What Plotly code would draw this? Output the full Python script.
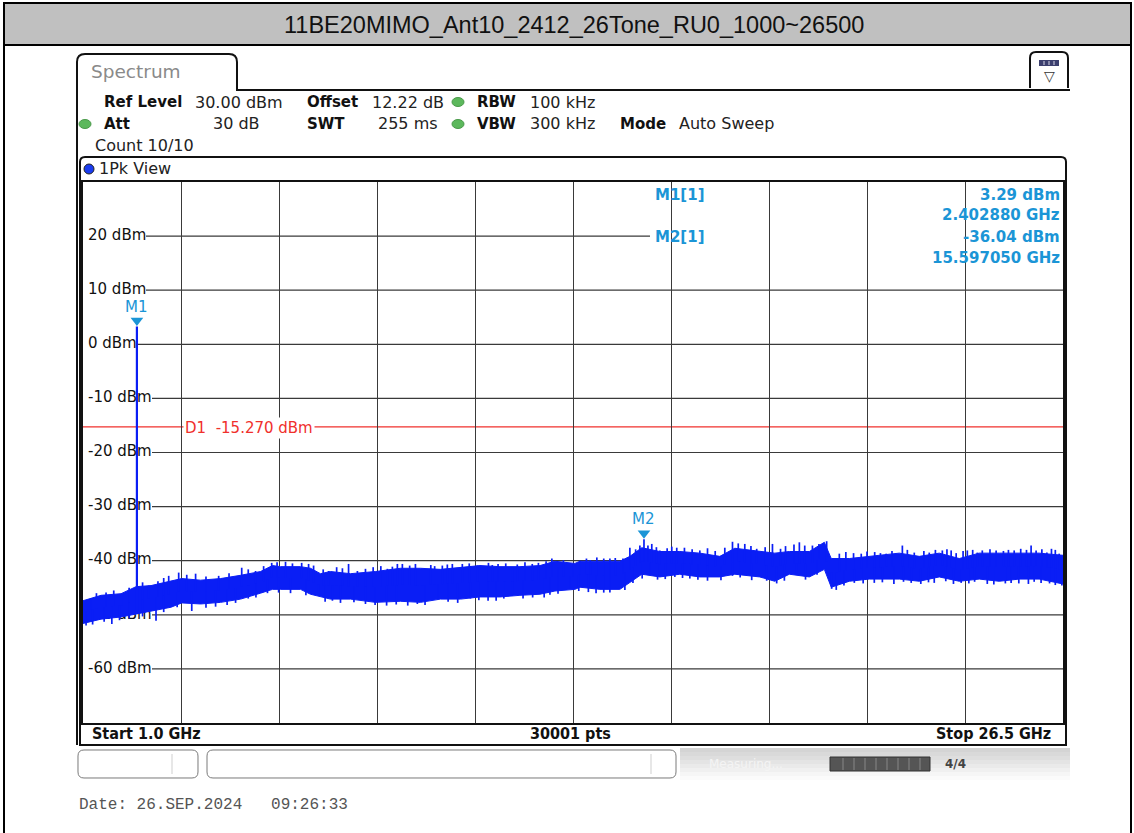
import numpy as np
import plotly.graph_objects as go

W, H = 1134, 833
TITLE = "11BE20MIMO_Ant10_2412_26Tone_RU0_1000~26500"

# ---------------- data ----------------
F_START, F_STOP = 1.0, 26.5          # GHz
Y_TOP, Y_BOTTOM = 30, -70            # dBm

# dense core of the peak trace (GHz, upper / lower dBm)
band_freq = [1.00, 1.47, 1.99, 2.38, 2.77, 3.29, 3.57, 4.06, 4.58, 5.10, 5.62, 5.93,
             6.14, 6.66, 6.92, 7.18, 7.44, 7.96, 8.61, 9.26, 9.78, 10.30, 10.82, 11.33,
             11.85, 12.37, 12.89, 13.28, 13.80, 13.93, 14.45, 14.97, 15.23, 15.54, 16.01,
             16.53, 17.05, 17.57, 17.96, 18.61, 19.00, 19.38, 19.90, 20.29, 20.47, 20.94,
             21.46, 22.24, 22.76, 23.28, 23.80, 24.32, 24.84, 25.36, 25.88, 26.50]
band_hi = [-47.4, -46.4, -46.1, -44.8, -44.6, -43.8, -43.3, -43.6, -43.3, -42.7, -42.0, -40.9,
           -41.1, -41.1, -41.4, -42.4, -42.0, -42.4, -42.0, -41.4, -41.4, -41.6, -41.2, -40.9,
           -41.1, -41.1, -40.9, -40.1, -40.5, -40.1, -40.1, -40.1, -39.2, -37.6, -38.3,
           -38.3, -38.6, -39.2, -37.7, -38.3, -38.6, -38.3, -38.3, -36.6, -39.6, -39.6,
           -39.2, -38.6, -39.2, -38.6, -39.6, -38.6, -38.6, -38.6, -38.6, -39.0]
band_lo = [-51.6, -50.8, -50.4, -49.9, -49.3, -48.6, -47.8, -48.0, -47.7, -47.1, -46.0, -45.3,
           -45.3, -45.3, -46.2, -46.7, -47.1, -47.1, -47.7, -47.5, -47.7, -47.1, -47.1, -46.7,
           -46.7, -46.4, -46.2, -45.6, -45.3, -44.9, -45.3, -45.3, -44.0, -42.5, -43.0,
           -42.5, -43.0, -43.0, -42.5, -43.0, -43.8, -42.5, -43.0, -41.6, -44.9, -43.8,
           -43.4, -43.4, -43.8, -43.0, -43.8, -43.4, -43.8, -43.4, -43.4, -44.3]

# visible peaks above the core (GHz, dBm)
spike_up_freq = [1.21, 1.35, 1.60, 1.80, 2.01, 2.20, 2.55, 2.71, 2.95, 3.10, 3.23, 3.49, 3.70,
                 3.93, 4.20, 4.53, 4.80, 5.13, 5.30, 5.49, 5.70, 5.91, 6.05, 6.27, 6.45, 6.69,
                 6.87, 7.00, 7.25, 7.39, 7.60, 7.75, 7.91, 8.14, 8.35, 8.55, 8.75, 8.92, 9.05,
                 9.18, 9.31, 9.50, 9.65, 9.83, 10.05, 10.15, 10.35, 10.48, 10.61, 10.87, 11.05,
                 11.26, 11.55, 11.65, 11.80, 12.00, 12.17, 12.30, 12.50, 12.69, 12.85, 13.05,
                 13.20, 13.36, 13.50, 13.75, 13.93, 14.10, 14.20, 14.37, 14.55, 14.71, 14.85,
                 15.05, 15.23, 15.38, 15.49, 15.597, 15.70, 15.80, 15.92, 16.01, 16.20, 16.32,
                 16.45, 16.65, 16.85, 17.05, 17.25, 17.45, 17.70, 17.90, 18.05, 18.22, 18.38,
                 18.53, 18.75, 18.94, 19.15, 19.28, 19.50, 19.64, 19.78, 19.98, 20.15, 20.35,
                 20.68, 20.85, 21.05, 21.25, 21.40, 21.60, 21.75, 21.90, 22.05, 22.32, 22.45,
                 22.63, 22.88, 23.02, 23.18, 23.36, 23.48, 23.59, 23.72, 23.90, 24.01, 24.15,
                 24.27, 24.40, 24.60, 24.76, 24.95, 25.08, 25.23, 25.40, 25.55, 25.67, 25.80,
                 25.95, 26.08, 26.20, 26.30, 26.40]
spike_up_dbm = [-46.9, -46.0, -45.9, -45.5, -46.1, -45.0, -44.0, -44.6, -43.8, -43.2, -42.8, -42.2, -42.6,
                -42.4, -42.9, -42.8, -42.3, -41.3, -41.6, -41.9, -41.0, -40.4, -40.3, -40.2, -40.5, -40.4,
                -40.6, -40.9, -41.6, -41.9, -41.2, -41.4, -40.6, -41.9, -41.5, -41.2, -41.0, -41.5, -41.1,
                -40.6, -40.6, -40.9, -40.6, -41.7, -40.8, -41.0, -40.9, -40.7, -40.6, -40.6, -40.5,
                -40.9, -40.4, -40.8, -40.6, -40.5, -41.3, -40.7, -40.3, -40.6, -40.4, -40.1,
                -39.6, -41.3, -39.9, -40.6, -40.0, -39.6, -39.9, -39.4, -39.6, -39.6, -39.5,
                -39.6, -37.6, -37.9, -37.2, -36.04, -37.2, -36.9, -37.5, -38.1, -37.7, -37.4,
                -37.6, -37.6, -37.9, -38.1, -37.7, -38.2, -37.6, -36.5, -36.8, -36.9, -37.3,
                -37.8, -37.5, -36.9, -37.8, -37.3, -37.0, -36.6, -37.2, -37.2, -36.9, -36.4,
                -38.7, -38.4, -38.6, -38.7, -38.3, -38.4, -38.6, -38.7, -38.2, -37.2, -38.0,
                -38.5, -38.2, -38.5, -38.0, -38.1, -37.9, -38.1, -38.6, -38.2, -38.1, -38.0,
                -38.5, -38.1, -37.9, -38.1, -38.2, -38.0, -38.1, -37.8, -38.0, -37.2, -38.1,
                -37.9, -38.5, -37.8, -38.0, -38.7]
# visible dips below the core (GHz, dBm)
spike_dn_freq = [1.08, 1.25, 1.55, 1.75, 1.95, 2.20, 2.55, 2.90, 3.10, 3.45, 3.83, 4.20, 4.45,
                 4.75, 4.97, 5.30, 5.50, 5.80, 6.09, 6.40, 6.80, 7.13, 7.30, 7.49, 7.70, 8.05,
                 8.35, 8.60, 8.90, 9.15, 9.45, 9.70, 9.90, 10.24, 10.50, 10.75, 11.08, 11.30,
                 11.54, 11.75, 11.95, 12.17, 12.45, 12.70, 13.00, 13.15, 13.36, 13.67, 13.90,
                 14.15, 14.35, 14.55, 14.71, 15.10, 15.31, 15.55, 15.75, 15.95, 16.15, 16.40,
                 16.60, 16.79, 17.00, 17.25, 17.60, 17.90, 18.10, 18.40, 18.79, 19.05, 19.25,
                 19.57, 19.80, 20.10, 20.48, 20.60, 20.80, 21.07, 21.30, 21.59, 21.80, 22.10,
                 22.35, 22.55, 22.80, 23.00, 23.15, 23.45, 23.65, 23.85, 24.05, 24.20, 24.53,
                 24.70, 25.00, 25.15, 25.35, 25.60, 25.75, 25.93, 26.15, 26.30, 26.47]
spike_dn_dbm = [-52.0, -51.8, -51.3, -51.7, -51.0, -50.7, -50.3, -51.1, -49.5, -48.6, -49.3, -48.7, -48.5,
                -48.2, -47.8, -47.0, -46.8, -46.0, -45.9, -46.0, -46.4, -46.5, -47.6, -47.4, -47.8, -47.7,
                -48.0, -48.2, -48.3, -48.1, -48.3, -48.0, -48.2, -47.0, -47.6, -47.8, -47.0, -47.3,
                -47.4, -47.4, -47.0, -46.5, -47.0, -46.8, -46.8, -46.3, -46.1, -45.2, -45.6,
                -45.8, -46.0, -45.9, -45.9, -45.4, -44.1, -43.3, -42.4, -43.5, -43.4, -43.0,
                -43.2, -43.3, -43.5, -43.7, -43.6, -42.8, -43.1, -43.6, -43.7, -44.2, -43.7,
                -42.4, -43.5, -42.6, -45.2, -45.4, -44.6, -44.1, -44.2, -44.1, -44.0, -44.3,
                -43.9, -44.1, -44.3, -44.0, -44.1, -43.8, -44.3, -44.1, -44.2, -43.9, -44.3,
                -44.4, -44.2, -44.1, -44.2, -44.3, -43.9, -44.1, -44.2, -44.5, -44.6]

M1_FREQ, M1_DBM = 2.402880, 3.29
M2_FREQ, M2_DBM = 15.597050, -36.04
D1_DBM = -15.270

grid_levels = [20, 10, 0, -10, -20, -30, -40, -50, -60]
grid_labels = ["20 dBm", "10 dBm", "0 dBm", "-10 dBm", "-20 dBm", "-30 dBm", "-40 dBm", "-50 dBm", "-60 dBm"]

marker_rows = [("M1[1]", "3.29 dBm"), ("", "2.402880 GHz"), ("M2[1]", "-36.04 dBm"), ("", "15.597050 GHz")]

# ---------------- geometry helpers (pixels -> paper) ----------------
PL, PR, PT, PB = 83, 1063, 182, 723
PX_PER_DB = (PB - PT) / (Y_TOP - Y_BOTTOM)


def px(x):
    return x / W


def py(y):
    return 1 - y / H


def fx(x):  # pixel x -> GHz on the plot
    return F_START + (x - PL) / (PR - PL) * (F_STOP - F_START)


def path(points_cmds):
    out = []
    for c in points_cmds:
        if isinstance(c, str):
            out.append(c)
        else:
            out.append(f"{px(c[0]):.5f},{py(c[1]):.5f}")
    return " ".join(out)


BLUE = "#0a1ef5"
MBLUE = "#1b95d6"
RED = "#f0302c"
FONT = "DejaVu Sans"

fig = go.Figure()

# grid labels (drawn under the trace)
fig.add_trace(go.Scatter(
    x=[fx(88)] * len(grid_levels), y=grid_levels, mode="text", text=grid_labels,
    textposition="middle right", textfont=dict(family=FONT, size=15, color="#111"),
    hoverinfo="skip"))

# dense core band
fig.add_trace(go.Scatter(x=band_freq, y=band_lo, mode="lines",
                         line=dict(color=BLUE, width=1), hoverinfo="skip"))
fig.add_trace(go.Scatter(x=band_freq, y=band_hi, mode="lines", fill="tonexty",
                         fillcolor=BLUE, line=dict(color=BLUE, width=1), hoverinfo="skip"))

# spikes
mid = (np.array(band_hi) + np.array(band_lo)) / 2
sx, sy = [], []
for f, v in list(zip(spike_up_freq, spike_up_dbm)) + list(zip(spike_dn_freq, spike_dn_dbm)):
    b = float(np.interp(f, band_freq, mid))
    sx += [f, f, None]
    sy += [b, v, None]
fig.add_trace(go.Scatter(x=sx, y=sy, mode="lines", line=dict(color=BLUE, width=1.7),
                         hoverinfo="skip", connectgaps=False))

# M1 carrier line
m1_base = float(np.interp(M1_FREQ, band_freq, band_lo))
fig.add_trace(go.Scatter(x=[M1_FREQ, M1_FREQ], y=[m1_base, M1_DBM], mode="lines",
                         line=dict(color=BLUE, width=2.2), hoverinfo="skip"))

# marker triangles (sit ~6 px above the marked point)
tri_off = 6 / PX_PER_DB
fig.add_trace(go.Scatter(x=[M1_FREQ, M2_FREQ], y=[M1_DBM + tri_off, M2_DBM + tri_off], mode="markers",
                         marker=dict(symbol="triangle-down", size=11, color=MBLUE, line=dict(width=0)),
                         hoverinfo="skip"))

shapes = []
annotations = []


def text(x, y, s, size=15, color="#111", anchor="left", weight="normal", family=FONT, bg=None):
    a = dict(x=px(x), y=py(y), xref="paper", yref="paper", text=s, showarrow=False,
             xanchor=anchor, yanchor="middle",
             font=dict(family=family, size=size, color=color, weight=weight))
    if bg:
        a["bgcolor"] = bg
    annotations.append(a)


# ----- outer report frame + title bar -----
shapes.append(dict(type="rect", xref="paper", yref="paper", x0=px(4), x1=px(1131), y0=py(3), y1=py(45),
                   fillcolor="#c0c0c0", line=dict(color="black", width=2), layer="above"))
shapes.append(dict(type="line", xref="paper", yref="paper", x0=px(4), x1=px(4), y0=py(45), y1=py(833),
                   line=dict(color="black", width=2)))
shapes.append(dict(type="line", xref="paper", yref="paper", x0=px(1131), x1=px(1131), y0=py(45), y1=py(833),
                   line=dict(color="black", width=2)))
text(574, 25, TITLE, size=23.5, color="#111", anchor="center", family="Liberation Sans, Arial")

# ----- spectrum tab and screen border -----
shapes.append(dict(type="path", xref="paper", yref="paper", layer="above",
                   path=path(["M", (77, 745), "L", (77, 62), "Q", (77, 54), (85, 54), "L", (229, 54),
                              "Q", (237, 54), (237, 62), "L", (237, 90), "L", (1070, 90)]),
                   line=dict(color="#111", width=2)))
text(89, 72, "Spectrum", size=18.5, color="#8a8a8a")
# icon at top right
shapes.append(dict(type="path", xref="paper", yref="paper", layer="above",
                   path=path(["M", (1030, 88), "L", (1030, 58), "Q", (1030, 52), (1036, 52), "L", (1062, 52),
                              "Q", (1068, 52), (1068, 58), "L", (1068, 88)]),
                   line=dict(color="#111", width=2)))
shapes.append(dict(type="rect", xref="paper", yref="paper", x0=px(1039), x1=px(1059), y0=py(60), y1=py(66),
                   fillcolor="#3c3f6e", line=dict(width=0)))
for xx in (1044, 1049, 1054):
    shapes.append(dict(type="line", xref="paper", yref="paper", x0=px(xx), x1=px(xx), y0=py(61), y1=py(65),
                       line=dict(color="#d8d8e8", width=1)))
text(1049, 76, "▽", size=14, color="#333", anchor="center")

# header rows
HV = 16
text(102, 102, "Ref Level", weight="bold")
text(193, 102, "30.00 dBm", color="#222", size=HV)
text(305, 102, "Offset", weight="bold")
text(370, 102, "12.22 dB", color="#222", size=HV)
text(475, 102, "RBW", weight="bold")
text(528, 102, "100 kHz", color="#222", size=HV)
text(102, 124, "Att", weight="bold")
text(262, 124, "30 dB", color="#222", anchor="right", size=HV)
text(305, 124, "SWT", weight="bold")
text(440, 124, "255 ms", color="#222", anchor="right", size=HV)
text(475, 124, "VBW", weight="bold")
text(528, 124, "300 kHz", color="#222", size=HV)
text(618, 124, "Mode", weight="bold")
text(677, 124, "Auto Sweep", color="#222", size=HV)
text(93, 145, "Count 10/10", color="#222", size=HV)
for cx, cy in [(458, 102), (85, 124), (458, 124)]:
    shapes.append(dict(type="circle", xref="paper", yref="paper", x0=px(cx - 6), x1=px(cx + 6),
                       y0=py(cy - 4.5), y1=py(cy + 4.5), fillcolor="#5cb85c", line=dict(color="#4a9a4a", width=1)))

# 1Pk View window
shapes.append(dict(type="path", xref="paper", yref="paper", layer="above",
                   path=path(["M", (80, 745), "L", (80, 162), "Q", (80, 157), (85, 157), "L", (1061, 157),
                              "Q", (1066, 157), (1066, 162), "L", (1066, 745), "Z"]),
                   line=dict(color="#111", width=2)))
shapes.append(dict(type="circle", xref="paper", yref="paper", x0=px(84), x1=px(94), y0=py(164), y1=py(174),
                   fillcolor="#1a3cf0", line=dict(color="#222", width=1)))
text(97, 169, "1Pk View", size=16, color="#222")

# marker info box (hides grid in upper right)
shapes.append(dict(type="rect", xref="paper", yref="paper", x0=px(575), x1=px(PR - 1), y0=py(PT + 1), y1=py(268),
                   fillcolor="white", line=dict(width=0), layer="between"))

# horizontal grid lines starting after their labels
starts = {20: 146, 10: 146, 0: 136}
for lv in grid_levels:
    x0 = starts.get(lv, 152)
    x1 = 650 if lv == 20 else PR
    shapes.append(dict(type="line", xref="paper", yref="y", x0=px(x0), x1=px(x1), y0=lv, y1=lv,
                       line=dict(color="#3a3a3a", width=1.2), layer="between"))

# D1 display line
shapes.append(dict(type="line", xref="paper", yref="y", x0=px(PL), x1=px(PR), y0=D1_DBM, y1=D1_DBM,
                   line=dict(color=RED, width=1.2), layer="between"))
text(183, 428, "D1  -15.270 dBm", size=15, color=RED, bg="white")

# marker info text
ys = [195, 215, 237, 258]
for (lab, val), yy in zip(marker_rows, ys):
    if lab:
        text(653, yy, lab, size=15, color=MBLUE, weight="bold")
    text(1062, yy, val, size=15, color=MBLUE, weight="bold", anchor="right")

# marker name labels
for name, f, v in [("M1", M1_FREQ, M1_DBM), ("M2", M2_FREQ, M2_DBM)]:
    annotations.append(dict(x=f, y=v, xref="x", yref="y", text=name, showarrow=False,
                            yanchor="middle", yshift=20, font=dict(family=FONT, size=15, color=MBLUE)))

# bottom bar texts
BF = "DejaVu Sans Condensed, DejaVu Sans"
text(90, 733, "Start 1.0 GHz", size=16, weight="bold", family=BF)
text(570, 733, "30001 pts", size=16, weight="bold", anchor="center", family=BF)
text(1053, 733, "Stop 26.5 GHz", size=16, weight="bold", anchor="right", family=BF)

# status bar
for x0, x1, sep in [(78, 198, 172), (207, 676, 651)]:
    shapes.append(dict(type="path", xref="paper", yref="paper",
                       path=path(["M", (x0 + 6, 750), "L", (x1 - 6, 750), "Q", (x1, 750), (x1, 756), "L", (x1, 772),
                                  "Q", (x1, 778), (x1 - 6, 778), "L", (x0 + 6, 778), "Q", (x0, 778), (x0, 772),
                                  "L", (x0, 756), "Q", (x0, 750), (x0 + 6, 750), "Z"]),
                       fillcolor="white", line=dict(color="#7a7a7a", width=1)))
    shapes.append(dict(type="line", xref="paper", yref="paper", x0=px(sep), x1=px(sep), y0=py(754), y1=py(774),
                       line=dict(color="#cfcfcf", width=1)))
grad = ["#d4d4d4", "#d9d9d9", "#dedede", "#e4e4e4", "#eaeaea", "#f0f0f0", "#f6f6f6", "#fbfbfb"]
for i, c in enumerate(grad):
    shapes.append(dict(type="rect", xref="paper", yref="paper", x0=px(680), x1=px(1070),
                       y0=py(748 + i * 4), y1=py(752 + i * 4), fillcolor=c, line=dict(width=0)))
text(707, 764, "Measuring...", size=12, color="#f4f4f4")
shapes.append(dict(type="rect", xref="paper", yref="paper", x0=px(830), x1=px(930), y0=py(757), y1=py(771),
                   fillcolor="#555", line=dict(color="#333", width=1)))
for xx in range(843, 930, 11):
    shapes.append(dict(type="line", xref="paper", yref="paper", x0=px(xx), x1=px(xx), y0=py(758), y1=py(770),
                       line=dict(color="#888", width=1)))
text(955, 764, "4/4", size=12, color="#444", anchor="center", weight="bold")

# date line
text(77, 805, "Date: 26.SEP.2024   09:26:33", size=16, color="#555", family="Liberation Mono, DejaVu Sans Mono")

fig.update_layout(
    width=W, height=H, margin=dict(l=0, r=0, t=0, b=0),
    paper_bgcolor="white", plot_bgcolor="white", showlegend=False,
    shapes=shapes, annotations=annotations,
    xaxis=dict(domain=[PL / W, PR / W], range=[F_START, F_STOP], tick0=F_START, dtick=(F_STOP - F_START) / 10,
               showgrid=True, gridcolor="#3a3a3a", gridwidth=1.2, showticklabels=False, ticks="",
               zeroline=False, showline=True, linecolor="#111", linewidth=2, mirror=True, fixedrange=True),
    yaxis=dict(domain=[1 - PB / H, 1 - PT / H], range=[Y_BOTTOM, Y_TOP], showgrid=False,
               showticklabels=False, ticks="", zeroline=False, showline=True, linecolor="#111",
               linewidth=2, mirror=True, fixedrange=True),
)

fig.write_html("out.html", config={"displayModeBar": False},
               post_script="document.body.style.margin='0';document.body.style.overflow='hidden';")
